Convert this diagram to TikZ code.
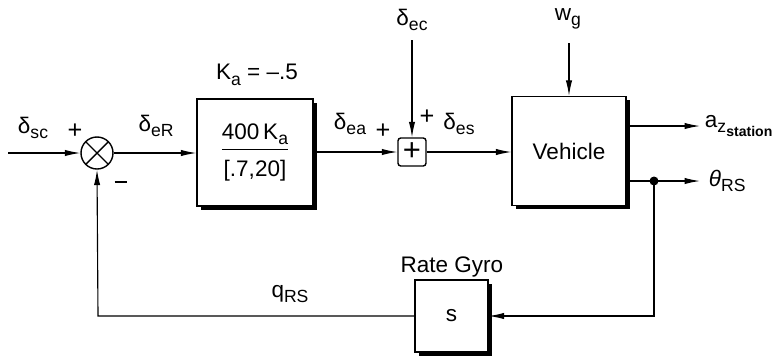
\documentclass[tikz,border=0pt]{standalone}
\usepackage{fontspec}
\setmainfont{Liberation Sans}
\usetikzlibrary{arrows.meta, positioning, shadows}

\newcommand{\sub}[1]{\raisebox{-0.45ex}{\fontsize{12.5}{12.5}\selectfont #1}}
\newcommand{\subsub}[1]{\raisebox{-0.45ex}{\fontsize{10}{10}\selectfont\bfseries #1}}

\begin{document}
\begin{tikzpicture}[
  x=0.025cm, y=-0.025cm,
  font=\fontsize{16}{19}\selectfont,
  line width=0.8pt,
  block/.style={
    draw,
    fill=white,
    line width=0.9pt,
    align=center,
    inner sep=2pt,
    drop shadow={shadow xshift=0.09cm, shadow yshift=-0.09cm,
                 fill=black, opacity=1}
  },
  sumcirc/.style={
    draw,
    circle,
    minimum size=0.8cm,
    inner sep=0pt,
    line width=1pt,
    path picture={
      \draw[line width=1pt] (path picture bounding box.south west) -- (path picture bounding box.north east)
            (path picture bounding box.north west) -- (path picture bounding box.south east);
    }
  },
  sumbox/.style={
    draw,
    rounded corners=2pt,
    line width=1pt,
    minimum size=0.7cm,
    inner sep=0pt,
    font=\fontsize{22}{22}\selectfont
  },
  arrow/.style={
    -{Latex[length=11pt, width=4.5pt]}
  },
  lbl/.style={inner sep=1pt},
  sign/.style={inner sep=1pt, font=\fontsize{18}{18}\selectfont}
]

\useasboundingbox (0,0) rectangle (784,357);

% Blocks
\node[sumcirc] (err) at (97,153) {};

\node[block, minimum width=2.9cm, minimum height=2.675cm] (act) at (255,152.5)
{\begin{tabular}{@{}c@{}}400\,K\sub{a}\\[1pt]\hline\rule{0pt}{19pt}[.7,20]\end{tabular}};

\node[sumbox] (sum) at (412,152) {+};

\node[block, minimum width=2.85cm, minimum height=2.725cm] (veh) at (569,151)
{Vehicle};

\node[block, minimum width=1.825cm, minimum height=1.8cm] (gyro) at (451.5,316)
{s};

% Free ends
\coordinate (in) at (8,153);
\coordinate (ecin) at (412,40);
\coordinate (wgin) at (569,43);
\coordinate (azout) at (700,126);
\coordinate (thout) at (700,181);
\coordinate (tap) at (654,181);
\coordinate (fbr) at (654,316);
\coordinate (fbl) at (98,316);

% Labels
\node[lbl] (lsc) at (33,128) {δ\sub{sc}};
\node[sign] (psc) at (75,131) {+};
\node[lbl] (leR) at (156,126) {δ\sub{eR}};
\node[sign] (mfb) at (121,182) {\rule{9pt}{1.6pt}};
\node[lbl] (lka) at (257,75) {K\sub{a} = --.5};
\node[lbl] (lea) at (350,124) {δ\sub{ea}};
\node[sign] (pea) at (383,131) {+};
\node[lbl] (lec) at (412,20) {δ\sub{ec}};
\node[sign] (pec) at (427,117) {+};
\node[lbl] (les) at (459,124) {δ\sub{es}};
\node[lbl] (lwg) at (568,19) {w\sub{g}};
\node[lbl, anchor=west] (laz) at (703,126) {a\sub{z\subsub{station}}};
\node[lbl, anchor=west] (lth) at (707,181) {\textit{θ}\sub{RS}};
\node[lbl] (lgy) at (452,267) {Rate Gyro};
\node[lbl] (lq) at (290,294) {q\sub{RS}};

% Forward path
\draw[arrow] (in) -- (err);
\draw[arrow] (err) -- (err -| act.west);
\draw[arrow] (act.east |- sum) -- (sum);
\draw[arrow] (ecin) -- (sum);
\draw[arrow] (sum) -- (sum -| veh.west);
\draw[arrow] (wgin) -- (veh.north -| wgin);
\draw[arrow] (veh.east |- azout) -- (azout);
\draw[arrow] (veh.east |- thout) -- (thout);
\fill (tap) circle (4.5);

% Feedback path
\draw[arrow] (tap) -- (fbr) -- (gyro.east);
\draw[arrow] (gyro.west) -- (fbl) -- (err.south);

\end{tikzpicture}
\end{document}
